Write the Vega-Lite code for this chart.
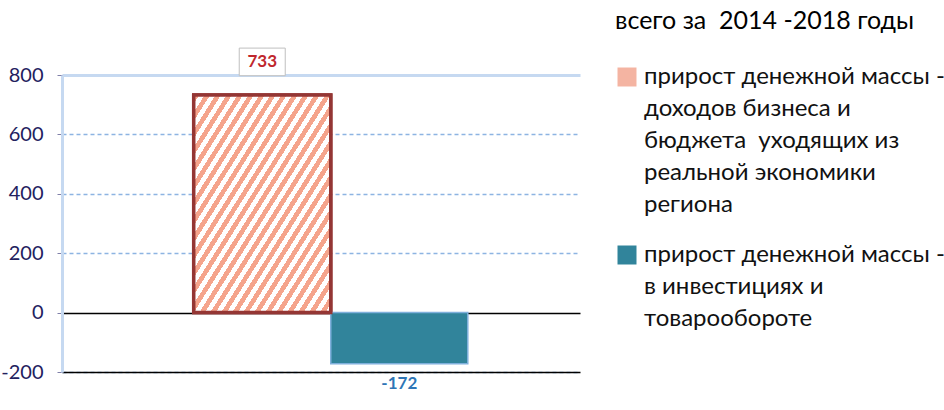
{
  "$schema": "https://vega.github.io/schema/vega-lite/v6.json",
  "autosize": "none",
  "padding": {"left": 62, "top": 75, "right": 364, "bottom": 38},
  "width": 518,
  "height": 297,
  "background": "white",
  "config": {
    "view": {"stroke": null},
    "font": "Lato",
    "style": {"guide-label": {"lineHeight": 32}}
  },
  "data": {
    "values": [
      {"series": "прирост денежной массы - доходов бизнеса и бюджета  уходящих из реальной экономики региона", "value": 733},
      {"series": "прирост денежной массы - в инвестициях и товарообороте", "value": -172}
    ]
  },
  "encoding": {
    "x": {
      "field": "series", "type": "nominal", "sort": null,
      "scale": {"paddingInner": 0, "paddingOuter": 0.89, "align": 0.54},
      "axis": {"title": null, "labels": false, "ticks": false, "domainColor": "#000000", "domainWidth": 1.3, "grid": false}
    },
    "y": {
      "field": "value", "type": "quantitative",
      "scale": {"domain": [-200, 800], "nice": false, "zero": false},
      "axis": {
        "title": null, "values": [-200, 0, 200, 400, 600, 800],
        "labelExpr": "'' + datum.value",
        "labelFont": "Lato", "labelFontSize": 20, "labelColor": "#23215e", "labelPadding": 14,
        "domainColor": "#c6d9f1", "domainWidth": 3,
        "tickColor": "#8080a8", "tickSize": 5,
        "grid": true,
        "gridColor": {"condition": [{"test": "datum.value === 0", "value": "#000000"}, {"test": "datum.value === 800", "value": "#c6d9f1"}], "value": "#8db4e2"},
        "gridDash": {"condition": {"test": "datum.value === 0 || datum.value === 800", "value": []}, "value": [4, 3]},
        "gridWidth": {"condition": {"test": "datum.value === 800", "value": 3}, "value": 1.3}
      }
    }
  },
  "layer": [
    {
      "mark": {"type": "bar"},
      "encoding": {
        "color": {
          "field": "series", "type": "nominal", "sort": null,
          "scale": {"range": ["#f4b4a2", "#31849b"]},
          "legend": {
            "orient": "none", "legendX": 553, "legendY": -66,
            "title": "всего за\u00a0 2014 -2018 годы",
            "titleFont": "Lato", "titleFontSize": 25, "titleFontWeight": "normal", "titleColor": "#000000", "titlePadding": 31, "titleLimit": 400,
            "labelFont": "Lato", "labelFontSize": 24, "labelColor": "#111111", "labelLimit": 400,
            "symbolType": "square", "symbolSize": 361, "symbolStrokeWidth": 0, "symbolOpacity": 1,
            "rowPadding": 26, "labelOffset": 5,
            "labelExpr": "indexof(datum.label, 'бизнеса') >= 0 ? ['прирост денежной массы -', 'доходов бизнеса и', 'бюджета\u00a0 уходящих из', 'реальной экономики', 'региона'] : ['прирост денежной массы -', 'в инвестициях и', 'товарообороте']"
          }
        },
        "stroke": {"condition": {"test": "datum.value > 0", "value": "#943634"}, "value": "#7fb0dc"},
        "strokeWidth": {"condition": {"test": "datum.value > 0", "value": 3.5}, "value": 1.5}
      }
    },
    {
      "transform": [{"filter": "datum.value > 0"}],
      "mark": {
        "type": "bar", "stroke": "#943634", "strokeWidth": 3.5,
        "fill": {
          "gradient": "linear", "x1": 0, "y1": 0, "x2": 1, "y2": 1,
          "stops": [
            {"offset": 0, "color": "#f5a48c"}, {"offset": 0.02, "color": "#f5a48c"}, {"offset": 0.02, "color": "#ffffff"}, {"offset": 0.04, "color": "#ffffff"},
            {"offset": 0.04, "color": "#f5a48c"}, {"offset": 0.06, "color": "#f5a48c"}, {"offset": 0.06, "color": "#ffffff"}, {"offset": 0.08, "color": "#ffffff"},
            {"offset": 0.08, "color": "#f5a48c"}, {"offset": 0.10, "color": "#f5a48c"}, {"offset": 0.10, "color": "#ffffff"}, {"offset": 0.12, "color": "#ffffff"},
            {"offset": 0.12, "color": "#f5a48c"}, {"offset": 0.14, "color": "#f5a48c"}, {"offset": 0.14, "color": "#ffffff"}, {"offset": 0.16, "color": "#ffffff"},
            {"offset": 0.16, "color": "#f5a48c"}, {"offset": 0.18, "color": "#f5a48c"}, {"offset": 0.18, "color": "#ffffff"}, {"offset": 0.20, "color": "#ffffff"},
            {"offset": 0.20, "color": "#f5a48c"}, {"offset": 0.22, "color": "#f5a48c"}, {"offset": 0.22, "color": "#ffffff"}, {"offset": 0.24, "color": "#ffffff"},
            {"offset": 0.24, "color": "#f5a48c"}, {"offset": 0.26, "color": "#f5a48c"}, {"offset": 0.26, "color": "#ffffff"}, {"offset": 0.28, "color": "#ffffff"},
            {"offset": 0.28, "color": "#f5a48c"}, {"offset": 0.30, "color": "#f5a48c"}, {"offset": 0.30, "color": "#ffffff"}, {"offset": 0.32, "color": "#ffffff"},
            {"offset": 0.32, "color": "#f5a48c"}, {"offset": 0.34, "color": "#f5a48c"}, {"offset": 0.34, "color": "#ffffff"}, {"offset": 0.36, "color": "#ffffff"},
            {"offset": 0.36, "color": "#f5a48c"}, {"offset": 0.38, "color": "#f5a48c"}, {"offset": 0.38, "color": "#ffffff"}, {"offset": 0.40, "color": "#ffffff"},
            {"offset": 0.40, "color": "#f5a48c"}, {"offset": 0.42, "color": "#f5a48c"}, {"offset": 0.42, "color": "#ffffff"}, {"offset": 0.44, "color": "#ffffff"},
            {"offset": 0.44, "color": "#f5a48c"}, {"offset": 0.46, "color": "#f5a48c"}, {"offset": 0.46, "color": "#ffffff"}, {"offset": 0.48, "color": "#ffffff"},
            {"offset": 0.48, "color": "#f5a48c"}, {"offset": 0.50, "color": "#f5a48c"}, {"offset": 0.50, "color": "#ffffff"}, {"offset": 0.52, "color": "#ffffff"},
            {"offset": 0.52, "color": "#f5a48c"}, {"offset": 0.54, "color": "#f5a48c"}, {"offset": 0.54, "color": "#ffffff"}, {"offset": 0.56, "color": "#ffffff"},
            {"offset": 0.56, "color": "#f5a48c"}, {"offset": 0.58, "color": "#f5a48c"}, {"offset": 0.58, "color": "#ffffff"}, {"offset": 0.60, "color": "#ffffff"},
            {"offset": 0.60, "color": "#f5a48c"}, {"offset": 0.62, "color": "#f5a48c"}, {"offset": 0.62, "color": "#ffffff"}, {"offset": 0.64, "color": "#ffffff"},
            {"offset": 0.64, "color": "#f5a48c"}, {"offset": 0.66, "color": "#f5a48c"}, {"offset": 0.66, "color": "#ffffff"}, {"offset": 0.68, "color": "#ffffff"},
            {"offset": 0.68, "color": "#f5a48c"}, {"offset": 0.70, "color": "#f5a48c"}, {"offset": 0.70, "color": "#ffffff"}, {"offset": 0.72, "color": "#ffffff"},
            {"offset": 0.72, "color": "#f5a48c"}, {"offset": 0.74, "color": "#f5a48c"}, {"offset": 0.74, "color": "#ffffff"}, {"offset": 0.76, "color": "#ffffff"},
            {"offset": 0.76, "color": "#f5a48c"}, {"offset": 0.78, "color": "#f5a48c"}, {"offset": 0.78, "color": "#ffffff"}, {"offset": 0.80, "color": "#ffffff"},
            {"offset": 0.80, "color": "#f5a48c"}, {"offset": 0.82, "color": "#f5a48c"}, {"offset": 0.82, "color": "#ffffff"}, {"offset": 0.84, "color": "#ffffff"},
            {"offset": 0.84, "color": "#f5a48c"}, {"offset": 0.86, "color": "#f5a48c"}, {"offset": 0.86, "color": "#ffffff"}, {"offset": 0.88, "color": "#ffffff"},
            {"offset": 0.88, "color": "#f5a48c"}, {"offset": 0.90, "color": "#f5a48c"}, {"offset": 0.90, "color": "#ffffff"}, {"offset": 0.92, "color": "#ffffff"},
            {"offset": 0.92, "color": "#f5a48c"}, {"offset": 0.94, "color": "#f5a48c"}, {"offset": 0.94, "color": "#ffffff"}, {"offset": 0.96, "color": "#ffffff"},
            {"offset": 0.96, "color": "#f5a48c"}, {"offset": 0.98, "color": "#f5a48c"}, {"offset": 0.98, "color": "#ffffff"}, {"offset": 1, "color": "#ffffff"}
          ]
        }
      },
      "encoding": {}
    },
    {
      "transform": [{"filter": "datum.value > 0"}],
      "mark": {"type": "point", "shape": "M-1,-0.6H1V0.6H-1Z", "size": 2116, "filled": true, "fill": "#ffffff", "stroke": "#bfbfbf", "strokeWidth": 1, "opacity": 1},
      "encoding": {"yOffset": {"value": -33}}
    },
    {
      "transform": [{"filter": "datum.value > 0"}],
      "mark": {"type": "text", "dy": -33, "fontSize": 17, "fontWeight": "bold", "font": "Lato", "color": "#c0272d", "baseline": "middle"},
      "encoding": {"text": {"field": "value", "type": "nominal"}}
    },
    {
      "transform": [{"filter": "datum.value < 0"}],
      "mark": {"type": "text", "dy": 20, "fontSize": 17, "fontWeight": "bold", "font": "Lato", "color": "#2e75b6", "baseline": "middle"},
      "encoding": {"text": {"field": "value", "type": "nominal"}}
    }
  ]
}
